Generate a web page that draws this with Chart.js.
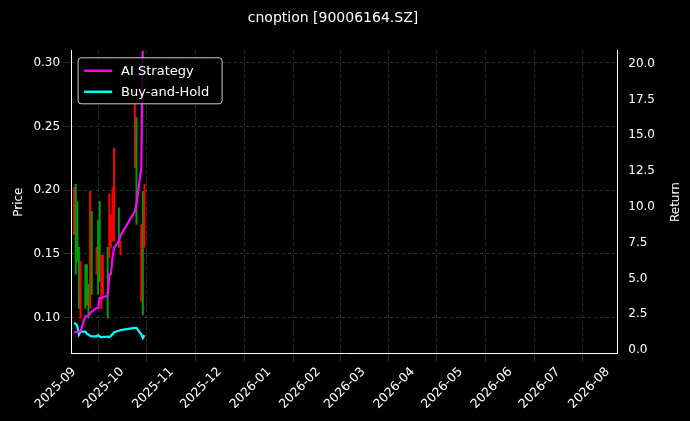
<!DOCTYPE html>
<html><head><script src="https://cdn.jsdelivr.net/npm/chart.js@4"></script>
<style>body{margin:0;background:#000}#w{width:690px;height:421px}</style></head>
<body><div id="w"><canvas id="c"></canvas></div>
<script>
const startDate = '2025-09-01';
const dates = ['2025-09-01','2025-09-02','2025-09-03','2025-09-04','2025-09-05','2025-09-08','2025-09-09','2025-09-10','2025-09-11','2025-09-12','2025-09-15','2025-09-16','2025-09-17','2025-09-18','2025-09-19','2025-09-22','2025-09-23','2025-09-24','2025-09-25','2025-09-26','2025-09-29','2025-09-30','2025-10-09','2025-10-10','2025-10-13','2025-10-14','2025-10-15'];
const lows  = [0.165,0.134,0.144,0.107,0.0995,0.107,0.110,0.0995,0.107,0.118,0.134,0.118,0.128,0.107,0.118,0.0995,0.147,0.155,0.160,0.160,0.155,0.149,0.2176,0.173,0.1126,0.102,0.155];
const highs = [0.202,0.2045,0.191,0.155,0.144,0.1415,0.1415,0.126,0.199,0.1835,0.155,0.176,0.191,0.149,0.149,0.155,0.197,0.181,0.202,0.233,0.186,0.160,0.2675,0.257,0.173,0.199,0.2045];
const up    = [1,0,0,0,1,0,0,0,1,0,1,0,0,1,1,0,1,1,1,1,0,1,1,0,1,0,1];
const aiReturn = [1.26,1.26,1.26,1.3,1.33,2.36,2.36,2.45,2.55,2.7,2.94,2.95,3.64,3.64,3.7,3.8,5.3,5.3,6.44,7.14,7.6,8.0,9.7,10.2,12.7,21.5,25];
const bhReturn = [1.9,1.85,1.66,1.08,1.3,1.3,1.15,1.08,1.0,0.96,0.96,1.05,0.95,0.9,0.92,0.95,0.9,1.0,1.1,1.25,1.35,1.4,1.55,1.55,1.1,0.85,1.05];
const monthTicks = ['2025-09','2025-10','2025-11','2025-12','2026-01','2026-02','2026-03','2026-04','2026-05','2026-06','2026-07','2026-08'];
const priceTicks = [0.10,0.15,0.20,0.25,0.30];
const returnTicks = [0,2.5,5,7.5,10,12.5,15,17.5,20];

const t0 = Date.parse(startDate+'T00:00:00Z');
const day = s => Math.round((Date.parse(s.length===7?s+'-01T00:00:00Z':s+'T00:00:00Z')-t0)/864e5);
const xs = dates.map(day);
const colors = up.map(u=>u?'#ff0000':'#00a000');
const grid = {color:'rgba(150,150,150,0.5)', lineWidth:0.6};
const bdr = {color:'#fff', dash:[3,3]};
const legendPlugin = {id:'lg', afterDraw(ch){const c=ch.ctx;const a=ch.chartArea;const x=a.left+7,y=a.top+7;
 c.save();c.fillStyle='rgba(0,0,0,0.8)';c.strokeStyle='#ccc';c.lineWidth=1;
 c.beginPath();c.roundRect(x,y,144,46,3);c.fill();c.stroke();
 const items=[['AI Strategy','#ff00ff'],['Buy-and-Hold','#00ffff']];
 items.forEach((it,i)=>{const yy=y+13+i*21;c.strokeStyle=it[1];c.lineWidth=2.5;c.beginPath();c.moveTo(x+6,yy);c.lineTo(x+34,yy);c.stroke();
 c.fillStyle='#fff';c.font='13px "DejaVu Sans"';c.textBaseline='middle';c.fillText(it[0],x+43,yy+1);});
 c.translate(676,a.top+(a.bottom-a.top)/2);c.rotate(-Math.PI/2);c.textAlign='center';c.font='12px "DejaVu Sans"';c.fillText('Return',0,0);
 c.restore();}};
new Chart(document.getElementById('c'),{
 type:'bar',
 data:{datasets:[
  {type:'line',label:'AI Strategy',data:xs.map((x,i)=>({x,y:aiReturn[i]})),yAxisID:'y1',borderColor:'#ff00ff',borderWidth:2.2,pointRadius:0,order:0},
  {type:'line',label:'Buy-and-Hold',data:xs.map((x,i)=>({x,y:bhReturn[i]})),yAxisID:'y1',borderColor:'#00ffff',borderWidth:2.2,pointRadius:0,order:0},
  {label:'Price',data:xs.map((x,i)=>({x,y:[lows[i],highs[i]]})),yAxisID:'y',backgroundColor:colors,barThickness:1.3,grouped:false,order:1}
 ]},
 plugins:[legendPlugin],
 options:{responsive:true,maintainAspectRatio:false,animation:false,
  layout:{padding:{left:8,right:32,top:10,bottom:6}},
  plugins:{legend:{display:false},tooltip:{enabled:false},
   title:{display:true,text:'cnoption [90006164.SZ]',color:'#fff',font:{size:14,family:'DejaVu Sans',weight:'normal'},padding:{top:0,bottom:24}}},
  scales:{
   x:{type:'linear',offset:false,min:-1.9,max:340,grid:grid,border:bdr,
    afterBuildTicks(s){s.ticks=monthTicks.map(m=>({value:day(m)}));},
    ticks:{color:'#fff',font:{size:12.5,family:'DejaVu Sans'},minRotation:45,maxRotation:45,autoSkip:false,
     callback(v){const i=monthTicks.findIndex(m=>day(m)===v);return i>=0?monthTicks[i]:'';}}},
   y:{position:'left',min:0.0717,max:0.3094,grid:grid,border:bdr,
    afterBuildTicks(s){s.ticks=priceTicks.map(v=>({value:v}));},
    title:{display:true,text:'Price',color:'#fff',font:{size:12,family:'DejaVu Sans'}},
    ticks:{color:'#fff',font:{size:12,family:'DejaVu Sans'},callback:v=>v.toFixed(2)}},
   y1:{position:'right',min:-0.23,max:20.9,grid:{display:false},border:{color:'#fff'},
    afterBuildTicks(s){s.ticks=returnTicks.map(v=>({value:v}));},
    ticks:{color:'#fff',font:{size:12,family:'DejaVu Sans'},callback:v=>v.toFixed(1)}}
  }}
});
</script></body></html>
